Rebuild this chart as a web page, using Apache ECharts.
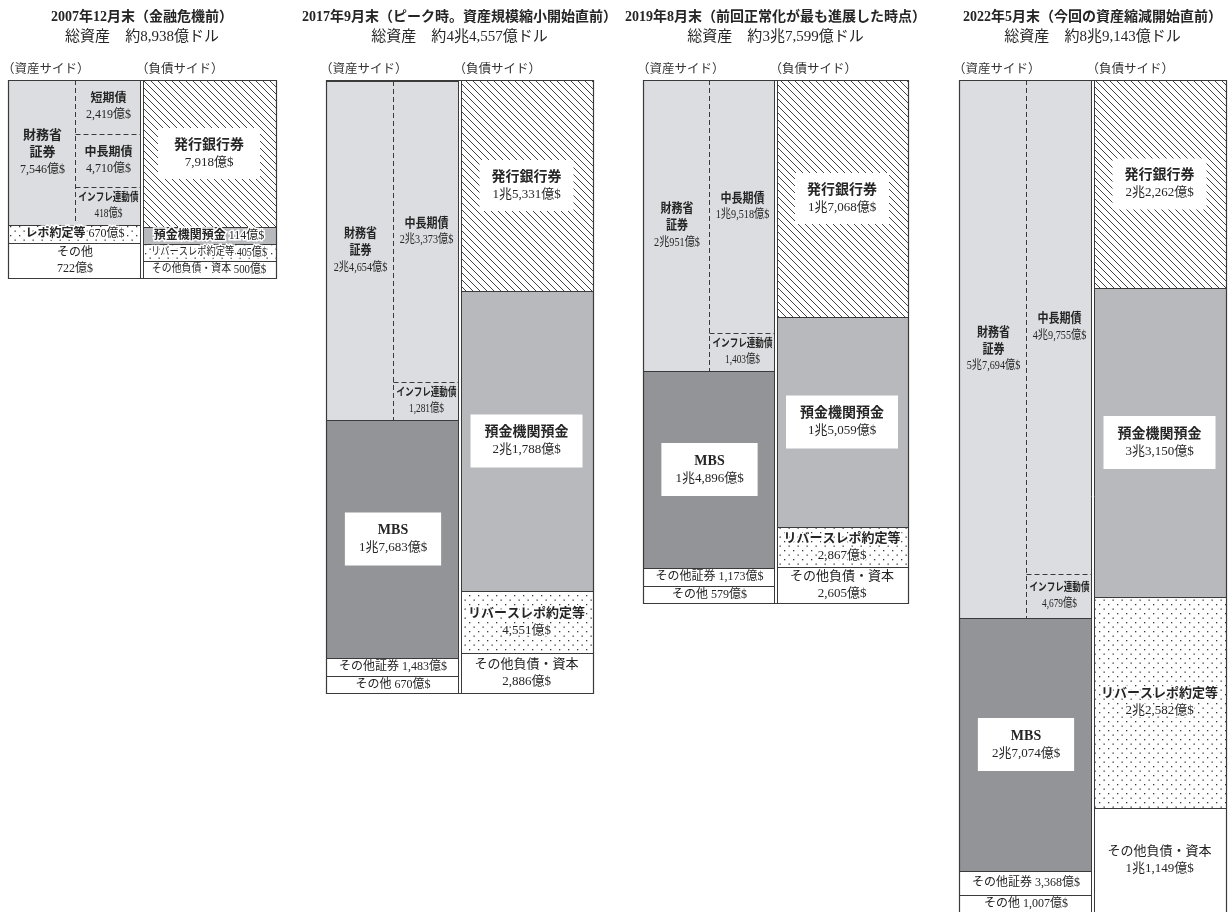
<!DOCTYPE html>
<html>
<head>
<meta charset="utf-8">
<script src="https://cdn.jsdelivr.net/npm/echarts@6/dist/echarts.min.js"></script>
<style>
  html, body { margin: 0; padding: 0; background: #fff; }
  #chart { width: 1231px; height: 912px; }
</style>
</head>
<body>
<div id="chart"></div>
<script>
// ---- FRBのバランスシート（単位：億ドル） ----
const periods = [
  '2007年12月末（金融危機前）',
  '2017年9月末（ピーク時。資産規模縮小開始直前）',
  '2019年8月末（前回正常化が最も進展した時点）',
  '2022年5月末（今回の資産縮減開始直前）'
];
const totals = [8938, 44557, 37599, 89143];

// 資産サイド（下から上の順）
const assetNames = [
  ['その他', 'レポ約定等', '財務省証券'],
  ['その他', 'その他証券', 'MBS', '財務省証券'],
  ['その他', 'その他証券', 'MBS', '財務省証券'],
  ['その他', 'その他証券', 'MBS', '財務省証券']
];
const assetValues = [
  [722, 670, 7546],
  [670, 1483, 17683, 24654],
  [579, 1173, 14896, 20951],
  [1007, 3368, 27074, 57694]
];

// 財務省証券の内訳（上から下の順）
const treasuryNames = [
  ['短期債', '中長期債', 'インフレ連動債'],
  ['中長期債', 'インフレ連動債'],
  ['中長期債', 'インフレ連動債'],
  ['中長期債', 'インフレ連動債']
];
const treasuryValues = [
  [2419, 4710, 418],
  [23373, 1281],
  [19518, 1403],
  [49755, 4679]
];

// 負債サイド（下から上の順）
const liabilityNames = [
  ['その他負債・資本', 'リバースレポ約定等', '預金機関預金', '発行銀行券'],
  ['その他負債・資本', 'リバースレポ約定等', '預金機関預金', '発行銀行券'],
  ['その他負債・資本', 'リバースレポ約定等', '預金機関預金', '発行銀行券'],
  ['その他負債・資本', 'リバースレポ約定等', '預金機関預金', '発行銀行券']
];
const liabilityValues = [
  [500, 405, 114, 7918],
  [2886, 4551, 21788, 15331],
  [2605, 2867, 15059, 17068],
  [11149, 22582, 33150, 22262]
];

// ---- 見た目の設定 ----
const FONT = '"Liberation Serif", "Noto Sans CJK JP", serif';
const INK = '#252525';
const LINE = '#3a3a3a';
const TREASURY_SPLIT = 0.5;   // 財務省証券セル内の破線の位置（資産列の幅に対する割合）

const panelBoxes = [
  { left: 8,   top: 80, width: 268, height: 198 },
  { left: 326, top: 80, width: 267, height: 613 },
  { left: 643, top: 80, width: 265, height: 523 },
  { left: 959, top: 80, width: 267, height: 832 }
];

const look2007 = {
  'その他':           { mode: 'two', minH: 35 },
  'レポ約定等':       { mode: 'one', minH: 18, halo: true, bold: true },
  '財務省証券':       { mode: 'treasury', bold: true, nameSize: 13, valSize: 12 },
  'その他負債・資本': { mode: 'one', minH: 17, nameSize: 11, valSize: 12, scaleX: 0.9 },
  'リバースレポ約定等': { mode: 'one', minH: 17, nameSize: 11, valSize: 12, scaleX: 0.84, halo: true },
  '預金機関預金':     { mode: 'one', minH: 17, bold: true, halo: true },
  '発行銀行券':       { mode: 'box', bold: true, nameSize: 14, valSize: 13, pad: [8, 16] },
  '短期債':           { mode: 'two', bold: true },
  '中長期債':         { mode: 'two', bold: true },
  'インフレ連動債':   { mode: 'two', bold: true, nameSize: 11, valSize: 12, scaleX: 0.78, minH: 38 }
};
const lookLater = {
  'その他':           { mode: 'one', minH: 17 },
  'その他証券':       { mode: 'one', minH: 18 },
  'MBS':              { mode: 'box', bold: true, nameSize: 14, valSize: 13, pad: [9, 14] },
  '財務省証券':       { mode: 'treasury', bold: true, nameSize: 13, valSize: 12, scaleX: 0.85 },
  'その他負債・資本': { mode: 'two', minH: 35, nameSize: 13, valSize: 13 },
  'リバースレポ約定等': { mode: 'two', minH: 35, halo: true, bold: true, nameSize: 13, valSize: 13 },
  '預金機関預金':     { mode: 'box', bold: true, nameSize: 14, valSize: 13, pad: [9, 14] },
  '発行銀行券':       { mode: 'box', bold: true, nameSize: 14, valSize: 13, pad: [8, 12] },
  '中長期債':         { mode: 'two', bold: true, nameSize: 13, valSize: 12, scaleX: 0.85 },
  'インフレ連動債':   { mode: 'two', bold: true, nameSize: 11, valSize: 12, scaleX: 0.78, minH: 38 }
};
const cellLooks = [look2007, lookLater, lookLater, lookLater];

// 斜線・点のパターン
function makeHatch() {
  const s = 7, c = document.createElement('canvas');
  c.width = s; c.height = s;
  const g = c.getContext('2d');
  g.strokeStyle = '#2e2e2e';
  g.lineWidth = 0.9;
  [-s, 0, s].forEach(function (k) {
    g.beginPath(); g.moveTo(k, 0); g.lineTo(k + s, s); g.stroke();
  });
  return c;
}
function makeDots() {
  const c = document.createElement('canvas');
  c.width = 9; c.height = 9;
  const g = c.getContext('2d');
  g.fillStyle = '#3a3a3a';
  g.fillRect(1, 1, 1.3, 1.3);
  g.fillRect(5.5, 5.5, 1.3, 1.3);
  return c;
}
const HATCH = { image: makeHatch(), repeat: 'repeat' };
const DOTS = { image: makeDots(), repeat: 'repeat' };

function fillOf(name) {
  if (name === '財務省証券') return '#dcdde0';
  if (name === 'MBS') return '#939497';
  if (name === '預金機関預金') return '#b8b9bc';
  if (name === '発行銀行券') return HATCH;
  if (name === 'レポ約定等' || name === 'リバースレポ約定等') return DOTS;
  return '#ffffff';
}

// 2兆4,654億 のような表記
function fmtOku(v) {
  const cho = Math.floor(v / 10000), oku = v % 10000;
  return (cho ? cho + '兆' : '') + oku.toLocaleString('en-US') + '億';
}

function makeLabel(cx, cy, name, valText, cfg) {
  const nameSize = cfg.nameSize || 12, valSize = cfg.valSize || 12;
  const halo = cfg.halo ? { stroke: '#fff', lineWidth: 3 } : {};
  const n = Object.assign({ fontSize: nameSize, fontWeight: cfg.bold ? 'bold' : 'normal',
    fontFamily: FONT, fill: INK, lineHeight: nameSize + 4 }, halo);
  const v = Object.assign({ fontSize: valSize, fontFamily: FONT, fill: INK,
    lineHeight: valSize + 4 }, halo);
  let text;
  if (cfg.mode === 'one') text = '{n|' + name + '}{v| ' + valText + '}';
  else if (cfg.mode === 'treasury') text = '{n|財務省}\n{n|証券}\n{v|' + valText + '}';
  else text = '{n|' + name + '}\n{v|' + valText + '}';
  const boxed = cfg.mode === 'box';
  return {
    type: 'text', x: cx, y: cy, scaleX: cfg.scaleX || 1, z2: 10,
    style: Object.assign({
      text: text, x: 0, y: 0, align: 'center', verticalAlign: 'middle',
      fontFamily: FONT, fontSize: valSize, fill: INK, rich: { n: n, v: v },
      backgroundColor: boxed ? '#fff' : null,
      padding: boxed ? (cfg.pad || [6, 10]) : 0
    }, halo)
  };
}

// 列ごとの積み上げ（最小の高さを確保しつつ値から配置）
function columnRects(api, p, side) {
  const names = side === 0 ? assetNames[p] : liabilityNames[p];
  const values = side === 0 ? assetValues[p] : liabilityValues[p];
  const xL = Math.round(api.coord([side, 0])[0]);
  const xR = Math.round(api.coord([side + 1, 0])[0]);
  let prev = Math.round(api.coord([0, 0])[1]);
  let cum = 0;
  return values.map(function (v, i) {
    cum += v;
    let top = Math.round(api.coord([0, cum])[1]);
    const minH = (cellLooks[p][names[i]] || {}).minH || 0;
    if (prev - top < minH) top = prev - minH;
    const r = { x: xL, y: top, width: xR - xL, height: prev - top };
    prev = top;
    return r;
  });
}

function renderColumn(p, side) {
  return function (params, api) {
    const i = params.dataIndex;
    const names = side === 0 ? assetNames[p] : liabilityNames[p];
    const values = side === 0 ? assetValues[p] : liabilityValues[p];
    const r = columnRects(api, p, side)[i];
    const name = names[i], look = cellLooks[p][name] || {};
    const children = [{
      type: 'rect',
      shape: { x: r.x + 0.5, y: r.y + 0.5, width: r.width, height: r.height },
      style: { fill: fillOf(name), stroke: LINE, lineWidth: 1 }
    }];
    let cx = r.x + r.width / 2;
    const cy = r.y + r.height / 2;
    if (name === '財務省証券') {
      const xs = Math.round(api.coord([TREASURY_SPLIT, 0])[0]);
      cx = (r.x + xs) / 2 + 1;
      children.push({
        type: 'line', z2: 5,
        shape: { x1: xs + 0.5, y1: r.y, x2: xs + 0.5, y2: r.y + r.height },
        style: { stroke: LINE, lineWidth: 1, lineDash: [5, 3] }
      });
    }
    children.push(makeLabel(cx, cy, name, fmtOku(values[i]) + '$', look));
    return { type: 'group', children: children };
  };
}

// 財務省証券の内訳：先頭から上詰め、最後（インフレ連動債）は下詰め、その一つ前が残りを占める
function treasuryRects(api, p) {
  const tIdx = assetNames[p].indexOf('財務省証券');
  const t = columnRects(api, p, 0)[tIdx];
  const xL = Math.round(api.coord([TREASURY_SPLIT, 0])[0]);
  const xR = t.x + t.width;
  const vals = treasuryValues[p], names = treasuryNames[p], n = vals.length;
  const rects = new Array(n);
  let y = t.y;
  for (let i = 0; i < n - 2; i++) {
    const h = Math.round(api.size([0, vals[i]])[1]);
    rects[i] = { x: xL, y: y, width: xR - xL, height: h };
    y += h;
  }
  const minH = (cellLooks[p][names[n - 1]] || {}).minH || 0;
  const hLast = Math.max(Math.round(api.size([0, vals[n - 1]])[1]), minH);
  const yLast = t.y + t.height - hLast;
  rects[n - 2] = { x: xL, y: y, width: xR - xL, height: yLast - y };
  rects[n - 1] = { x: xL, y: yLast, width: xR - xL, height: hLast };
  return rects;
}

function renderTreasury(p) {
  return function (params, api) {
    const i = params.dataIndex;
    const r = treasuryRects(api, p)[i];
    const name = treasuryNames[p][i];
    const children = [];
    if (i > 0) {
      children.push({
        type: 'line', z2: 5,
        shape: { x1: r.x + 0.5, y1: r.y + 0.5, x2: r.x + r.width, y2: r.y + 0.5 },
        style: { stroke: LINE, lineWidth: 1, lineDash: [5, 3] }
      });
    }
    children.push(makeLabel(r.x + r.width / 2, r.y + r.height / 2, name,
      fmtOku(treasuryValues[p][i]) + '$', cellLooks[p][name] || {}));
    return { type: 'group', children: children };
  };
}

// 外枠と資産・負債の間の二重線
function renderFrame(p) {
  return function (params, api) {
    const x0 = Math.round(api.coord([0, 0])[0]);
    const x2 = Math.round(api.coord([2, 0])[0]);
    const xm = Math.round(api.coord([1, 0])[0]);
    const yb = Math.round(api.coord([0, 0])[1]);
    const yt = Math.round(api.coord([0, api.value(0)])[1]);
    return {
      type: 'group',
      children: [
        { type: 'rect', shape: { x: xm - 1, y: yt + 1, width: 2, height: yb - yt - 1 }, style: { fill: '#fff' } },
        { type: 'line', shape: { x1: xm - 1.5, y1: yt, x2: xm - 1.5, y2: yb + 1 }, style: { stroke: LINE, lineWidth: 1 } },
        { type: 'line', shape: { x1: xm + 1.5, y1: yt, x2: xm + 1.5, y2: yb + 1 }, style: { stroke: LINE, lineWidth: 1 } },
        { type: 'rect', shape: { x: x0 + 0.5, y: yt + 0.5, width: x2 - x0, height: yb - yt },
          style: { fill: null, stroke: LINE, lineWidth: 1.2 } }
      ]
    };
  };
}

const grids = [], xAxes = [], yAxes = [], series = [], graphics = [];
periods.forEach(function (title, p) {
  const b = panelBoxes[p];
  grids.push({ left: b.left, top: b.top, width: b.width, height: b.height });
  xAxes.push({ type: 'value', gridIndex: p, min: 0, max: 2, show: false });
  yAxes.push({ type: 'value', gridIndex: p, min: 0, max: totals[p], show: false });
  const common = { type: 'custom', coordinateSystem: 'cartesian2d', xAxisIndex: p, yAxisIndex: p,
    silent: true, clip: false, animation: false };
  series.push(Object.assign({ name: '資産', renderItem: renderColumn(p, 0),
    data: assetValues[p].map(function (v, i) { return [0, i, v]; }) }, common));
  series.push(Object.assign({ name: '負債', renderItem: renderColumn(p, 1),
    data: liabilityValues[p].map(function (v, i) { return [1, i, v]; }) }, common));
  series.push(Object.assign({ name: '財務省証券内訳', renderItem: renderTreasury(p), z: 3,
    data: treasuryValues[p].map(function (v, i) { return [0.5, i, v]; }) }, common));
  series.push(Object.assign({ name: '枠', renderItem: renderFrame(p), z: 4,
    data: [[totals[p], 0]] }, common));

  const cx = b.left + b.width / 2;
  graphics.push(
    { type: 'text', x: cx, y: 17, style: { text: title, align: 'center', verticalAlign: 'middle',
      fontFamily: FONT, fontSize: 14, fontWeight: 'bold', fill: INK } },
    { type: 'text', x: cx, y: 37, style: { text: '総資産　約' + fmtOku(totals[p]) + 'ドル',
      align: 'center', verticalAlign: 'middle', fontFamily: FONT, fontSize: 15, fill: INK } },
    { type: 'text', x: b.left - 6, y: 70, style: { text: '（資産サイド）', align: 'left',
      verticalAlign: 'middle', fontFamily: FONT, fontSize: 12.5, fill: '#333' } },
    { type: 'text', x: b.left + b.width / 2 - 6, y: 70, style: { text: '（負債サイド）', align: 'left',
      verticalAlign: 'middle', fontFamily: FONT, fontSize: 12.5, fill: '#333' } }
  );
});

const chart = echarts.init(document.getElementById('chart'), null, { renderer: 'canvas' });
chart.setOption({
  backgroundColor: '#ffffff',
  animation: false,
  grid: grids,
  xAxis: xAxes,
  yAxis: yAxes,
  graphic: graphics,
  series: series
});
</script>
</body>
</html>
